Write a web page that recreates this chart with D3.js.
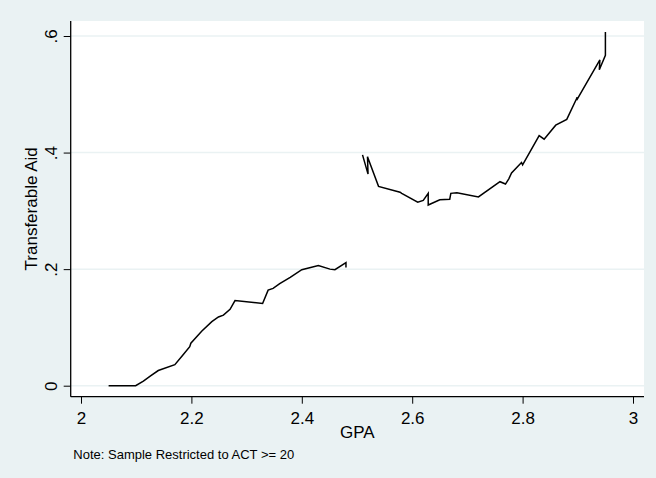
<!DOCTYPE html>
<html>
<head>
<meta charset="utf-8">
<script src="https://cdn.jsdelivr.net/npm/d3@7"></script>
<style>
body { margin: 0; background: #eaf2f3; }
text { font-family: "Liberation Sans", Arial, sans-serif; fill: #000; }
</style>
</head>
<body>
<div id="chart"></div>
<script>
// GPA / aid readings, left of the cutoff and right of it
var gpaLeft = [2.05, 2.069, 2.099, 2.113, 2.126, 2.140, 2.170, 2.185, 2.197, 2.199, 2.219, 2.237, 2.249, 2.258, 2.270, 2.279, 2.329, 2.339, 2.348, 2.360, 2.379, 2.400, 2.430, 2.451, 2.460, 2.480, 2.480];
var aidLeft = [0, 0, 0, 0.008, 0.017, 0.026, 0.036, 0.053, 0.067, 0.073, 0.094, 0.110, 0.118, 0.121, 0.131, 0.146, 0.141, 0.164, 0.167, 0.175, 0.186, 0.199, 0.206, 0.200, 0.199, 0.211, 0.203];

var gpaRight = [2.510, 2.520, 2.519, 2.539, 2.578, 2.581, 2.610, 2.620, 2.629, 2.629, 2.650, 2.668, 2.670, 2.681, 2.720, 2.759, 2.769, 2.775, 2.780, 2.798, 2.800, 2.830, 2.839, 2.860, 2.880, 2.899, 2.898, 2.940, 2.939, 2.950, 2.950];
var aidRight = [0.396, 0.363, 0.393, 0.342, 0.332, 0.330, 0.315, 0.318, 0.330, 0.310, 0.319, 0.320, 0.330, 0.331, 0.324, 0.350, 0.346, 0.355, 0.365, 0.383, 0.379, 0.429, 0.423, 0.447, 0.457, 0.495, 0.490, 0.559, 0.542, 0.567, 0.607];

var xTicks = [2, 2.2, 2.4, 2.6, 2.8, 3];
var yTicks = [0, 0.2, 0.4, 0.6];
var xTickLabels = ["2", "2.2", "2.4", "2.6", "2.8", "3"];
var yTickLabels = ["0", ".2", ".4", ".6"];

var W = 656, H = 478;
var plot = {left: 70.7, right: 644, top: 21, bottom: 396.7};
var fs = 17;

var svg = d3.select("#chart").append("svg").attr("width", W).attr("height", H);
svg.append("rect").attr("width", W).attr("height", H).attr("fill", "#eaf2f3");

var x = d3.scaleLinear().domain([2, 3]).range([81, 633]);
var y = d3.scaleLinear().domain([0, 0.6]).range([385.7, 36]);

// plot region
svg.append("rect")
    .attr("x", plot.left).attr("y", plot.top)
    .attr("width", plot.right - plot.left).attr("height", plot.bottom - plot.top)
    .attr("fill", "#fff");

// gridlines
svg.append("g").selectAll("line")
    .data(yTicks)
    .enter().append("line")
    .attr("x1", plot.left).attr("x2", plot.right)
    .attr("y1", function(d) { return y(d); })
    .attr("y2", function(d) { return y(d); })
    .attr("stroke", "#eaf2f3").attr("stroke-width", 1.5);

// axes
var xAxis = d3.axisBottom(x).tickValues(xTicks)
    .tickFormat(function(d, i) { return xTickLabels[i]; })
    .tickSize(7).tickPadding(8);
var gx = svg.append("g")
    .attr("transform", "translate(0," + plot.bottom + ")")
    .call(xAxis);
gx.select(".domain").remove();
gx.selectAll("line").attr("stroke", "#000");
gx.selectAll("text").attr("font-size", fs).style("font-family", "Liberation Sans, Arial, sans-serif");

var yAxis = d3.axisLeft(y).tickValues(yTicks)
    .tickFormat(function(d, i) { return yTickLabels[i]; })
    .tickSize(7);
var gy = svg.append("g")
    .attr("transform", "translate(" + plot.left + ",0)")
    .call(yAxis);
gy.select(".domain").remove();
gy.selectAll("line").attr("stroke", "#000");
gy.selectAll("text")
    .attr("x", null).attr("dy", null)
    .attr("text-anchor", "middle")
    .attr("font-size", fs)
    .style("font-family", "Liberation Sans, Arial, sans-serif")
    .attr("transform", "translate(-14,0) rotate(-90)");

// axis lines (left and bottom only)
svg.append("line")
    .attr("x1", plot.left).attr("x2", plot.left)
    .attr("y1", plot.top).attr("y2", plot.bottom)
    .attr("stroke", "#000").attr("stroke-width", 1.3);
svg.append("line")
    .attr("x1", plot.left).attr("x2", plot.right)
    .attr("y1", plot.bottom).attr("y2", plot.bottom)
    .attr("stroke", "#000").attr("stroke-width", 1.3);

// series
var line = d3.line()
    .x(function(d) { return x(d[0]); })
    .y(function(d) { return y(d[1]); });

[[gpaLeft, aidLeft], [gpaRight, aidRight]].forEach(function(s) {
    svg.append("path")
        .datum(d3.zip(s[0], s[1]))
        .attr("d", line)
        .attr("fill", "none")
        .attr("stroke", "#000")
        .attr("stroke-width", 1.5)
        .attr("stroke-linejoin", "miter");
});

// titles
svg.append("text")
    .attr("x", (plot.left + plot.right) / 2).attr("y", 438)
    .attr("text-anchor", "middle").attr("font-size", fs)
    .text("GPA");

svg.append("text")
    .attr("transform", "translate(37," + ((plot.top + plot.bottom) / 2) + ") rotate(-90)")
    .attr("text-anchor", "middle").attr("font-size", fs)
    .text("Transferable Aid");

svg.append("text")
    .attr("x", 73.3).attr("y", 459.3)
    .attr("font-size", 13)
    .text("Note: Sample Restricted to ACT >= 20");
</script>
</body>
</html>
